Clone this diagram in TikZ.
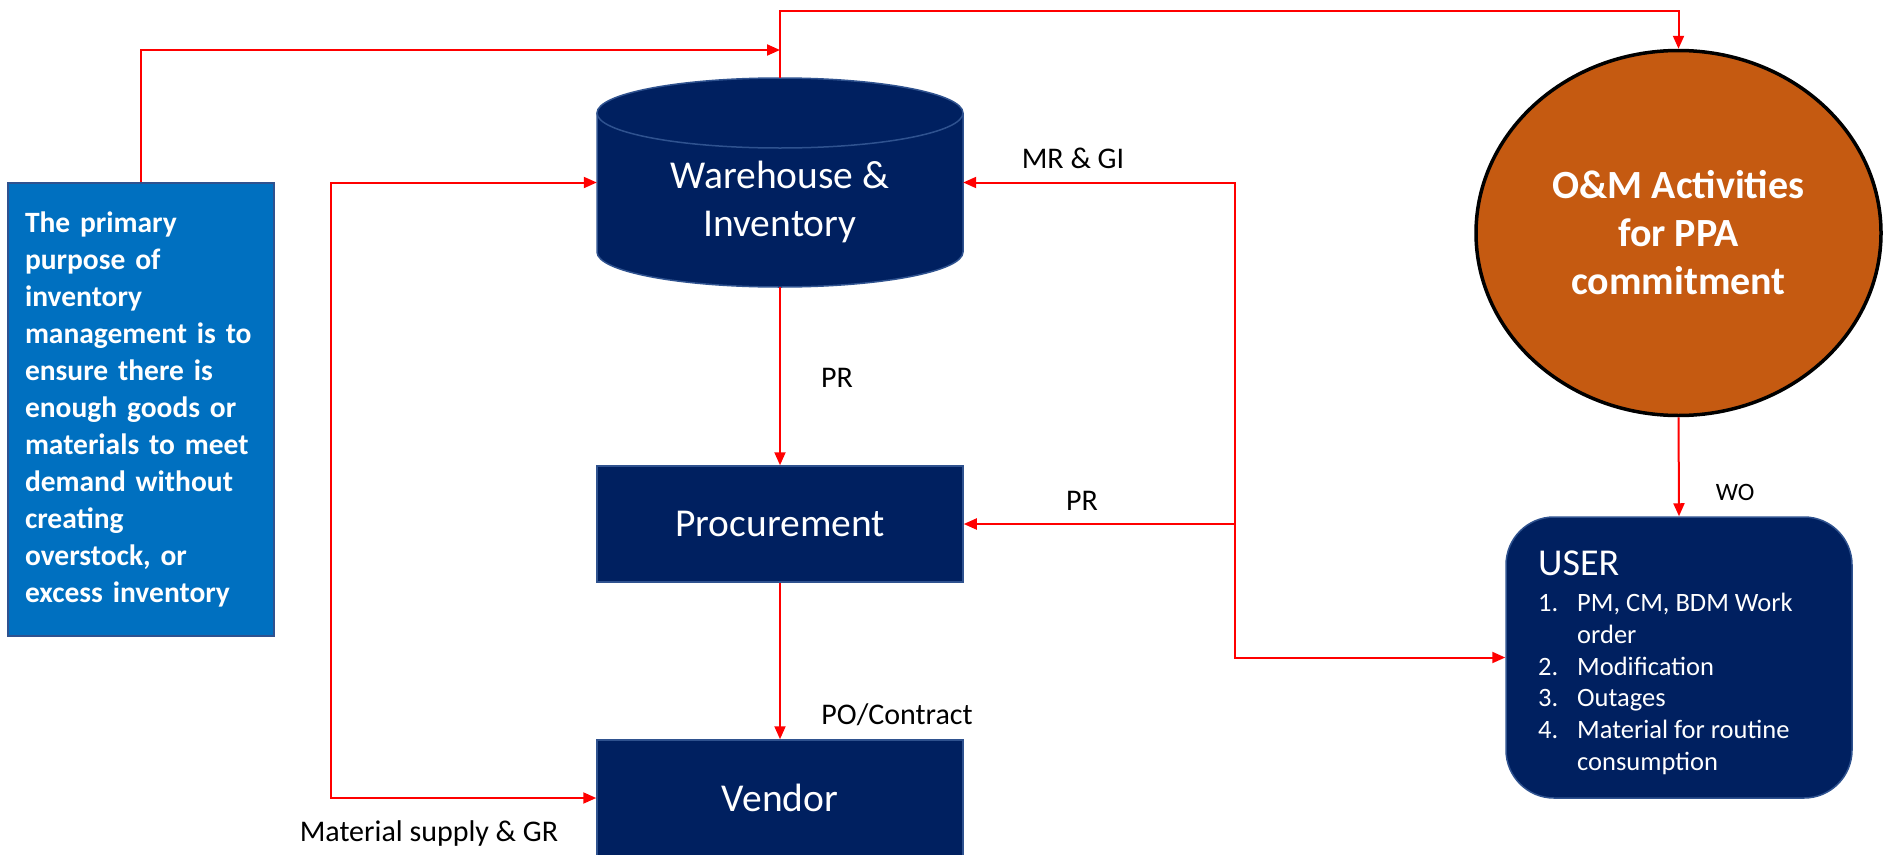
\documentclass[tikz,border=0pt]{standalone}
\usepackage{fontspec}
\setmainfont{Carlito}
\usetikzlibrary{arrows.meta,shapes.geometric}
\definecolor{navy}{HTML}{002060}
\definecolor{navyedge}{HTML}{2F528F}
\definecolor{bluebox}{HTML}{0070C0}
\definecolor{orng}{HTML}{C55A11}
\newcommand\myfs[2]{\fontsize{#1}{#2}\selectfont}
\begin{document}
\begin{tikzpicture}[x=1pt,y=-1pt,
  rl/.style={draw=red, line width=2pt},
  arr/.style={-{Triangle[length=13pt,width=11pt]}},
  both/.style={{Triangle[length=13pt,width=11pt]}-{Triangle[length=13pt,width=11pt]}},
  navybox/.style={draw=navyedge, line width=1.5pt, fill=navy, text=white,
    minimum width=366pt, font=\myfs{39.5}{48}, inner sep=0pt},
  lbl/.style={text=black, font=\myfs{30}{36}, inner sep=0pt}]
\useasboundingbox (0,0) rectangle (1886,854);
\clip (0,0) rectangle (1886,854);
\fill[white] (0,0) rectangle (1886,854);

% left text box
\node[draw=navyedge, line width=1.5pt, fill=bluebox, text=white,
  minimum height=453pt, inner xsep=17pt, inner ysep=0pt, text width=232pt, align=left,
  font=\bfseries\myfs{29.5}{37}] (lb) at (141,409.5)
  {The primary\\purpose of\\inventory\\management is to\\ensure there is\\enough goods or\\materials to meet\\demand without\\creating\\overstock, or\\excess inventory};

% warehouse cylinder
\path[fill=navy] (597,113) -- (963,113) -- (963,252)
  arc[start angle=0, end angle=180, x radius=183, y radius=35] -- cycle;
\draw[navyedge, line width=1.5pt] (597,113) -- (597,252)
  arc[start angle=180, end angle=0, x radius=183, y radius=35] -- (963,113);
\draw[navyedge, line width=1.5pt, fill=navy] (780,113) ellipse [x radius=183, y radius=35];
\node[minimum width=366pt, minimum height=209pt, inner sep=0pt] (wh) at (780,182.5) {};
\node[text=white, font=\myfs{39.5}{48}, align=center, inner sep=0pt] (whtext) at (780,202) {Warehouse \&\\Inventory};

% procurement and vendor
\node[navybox, minimum height=116pt] (proc) at (780,524) {Procurement};
\node[navybox, minimum height=116pt] (vend) at (780,798) {Vendor};

% O&M ellipse
\node[ellipse, draw=black, line width=3.5pt, fill=orng, text=white, minimum width=405pt,
  minimum height=365pt, align=center, inner sep=0pt, font=\bfseries\myfs{40}{48}] (om) at (1678.5,233)
  {O\&M Activities\\for PPA\\commitment};

% USER box
\node[draw=navyedge, line width=1.5pt, fill=navy, rounded corners=48pt,
  minimum width=346pt, minimum height=281pt] (user) at (1679,657.5) {};
\node[anchor=west, text=white, font=\myfs{38}{44}, inner sep=0pt] (usertitle) at (1538,563) {USER};
\node[anchor=north west, text=white, font=\myfs{26.5}{31.7}, align=left, inner sep=0pt] (userlist) at (1538,593)
  {\makebox[39pt][l]{1.}PM, CM, BDM Work\\
   \makebox[39pt][l]{}order\\
   \makebox[39pt][l]{2.}Modification\\
   \makebox[39pt][l]{3.}Outages\\
   \makebox[39pt][l]{4.}Material for routine\\
   \makebox[39pt][l]{}consumption};

% connectors
\coordinate (tip) at (780,50);
\coordinate (top) at (1678.5,10.7);
\coordinate (j) at (1234.5,524);
\draw[rl, arr] (lb.north) |- (tip);
\draw[rl, arr] (wh.north) |- (top) -- (om.north);
\draw[rl, both] (wh.west) -- ++(-266,0) |- (vend.west);
\draw[rl, arr] (wh.south) -- (proc.north);
\draw[rl, arr] (proc.south) -- (vend.north);
\draw[rl, arr] (om.south) -- (user.north);
\draw[rl, both] (wh.east) -| (j) |- (user.west);
\draw[rl, arr] (j) -- (proc.east);

% labels
\node[lbl] (lmrgi) at (1073,158) {MR \& GI};
\node[lbl] (lpr1) at (837,378) {PR};
\node[lbl] (lpr2) at (1082,501) {PR};
\node[lbl] (lpo) at (897,715) {PO/Contract};
\node[lbl] (lmat) at (429,833) {Material supply \& GR};
\node[lbl, font=\myfs{25}{30}] (lwo) at (1735,492.5) {WO};
\end{tikzpicture}
\end{document}
